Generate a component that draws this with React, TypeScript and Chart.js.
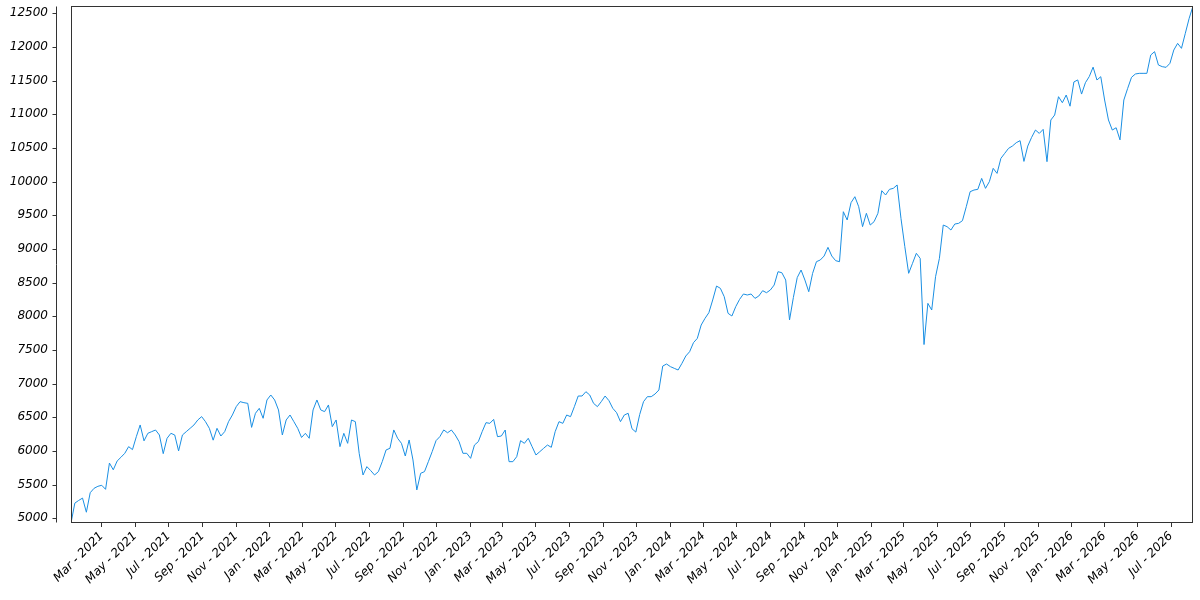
import { useEffect, useRef } from "react";
import Chart from "chart.js/auto";

// weekly closes, one Monday sample per week
const SERIES_START = "2021-01-04";
const STEP_DAYS = 7;

const close2021 = [
  4930, 5225, 5265, 5300, 5090, 5380, 5445, 5475, 5490, 5430,
  5820, 5720, 5850, 5906, 5965, 6064, 6020, 6212, 6386, 6150,
  6262, 6287, 6311, 6237, 5960, 6188, 6262, 6237, 6000, 6237,
  6287, 6336, 6386, 6460, 6510, 6435, 6336, 6160, 6336, 6222,
  6287, 6435, 6534, 6658, 6732, 6717, 6707, 6350, 6559, 6633,
  6485, 6757,
];
const close2022 = [
  6831, 6757, 6609, 6237, 6460, 6534, 6435, 6336, 6200, 6262,
  6188, 6609, 6757, 6609, 6584, 6683, 6361, 6460, 6064, 6262,
  6113, 6460, 6435, 5965, 5643, 5767, 5708, 5643, 5693, 5841,
  6015, 6039, 6312, 6188, 6113, 5925, 6163, 5866, 5421, 5668,
  5693, 5841, 5990, 6153, 6213, 6312, 6270, 6311, 6237, 6138,
  5965, 5965,
];
const close2023 = [
  5890, 6088, 6138, 6286, 6420, 6410, 6469, 6212, 6222, 6311,
  5841, 5841, 5915, 6153, 6113, 6188, 6064, 5940, 5989, 6039,
  6088, 6054, 6286, 6435, 6410, 6534, 6509, 6658, 6816, 6816,
  6880, 6831, 6707, 6658, 6732, 6816, 6747, 6633, 6568, 6435,
  6534, 6559, 6330, 6280, 6540, 6732, 6806, 6806, 6846, 6905,
  7261, 7291,
];
const close2024 = [
  7252, 7227, 7202, 7301, 7410, 7474, 7608, 7672, 7870, 7969,
  8053, 8242, 8449, 8415, 8291, 8044, 8004, 8143, 8251, 8331,
  8316, 8331, 8266, 8301, 8380, 8350, 8390, 8464, 8662, 8647,
  8538, 7945, 8280, 8575, 8687, 8538, 8365, 8637, 8811, 8836,
  8895, 9024, 8895, 8826, 8811, 9553, 9430, 9687, 9776, 9627,
  9331, 9529, 9355,
];
const close2025 = [
  9405, 9529, 9865, 9801, 9885, 9900, 9950, 9454, 9034, 8638,
  8786, 8935, 8860, 7580, 8192, 8093, 8588, 8860, 9355, 9331,
  9281, 9370, 9380, 9420, 9628, 9850, 9875, 9885, 10048, 9900,
  9999, 10197, 10122, 10345, 10420, 10494, 10528, 10578, 10608, 10300,
  10528, 10657, 10766, 10716, 10776, 10296, 10915, 10989, 11261, 11172,
  11286, 11120,
];
const close2026 = [
  11480, 11510, 11300, 11469, 11560, 11700, 11509, 11558, 11212, 10915,
  10766, 10800, 10620, 11212, 11385, 11549, 11598, 11608, 11608, 11608,
  11880, 11930, 11732, 11707, 11697, 11757, 11954, 12053, 11979, 12202,
  12425, 12608,
];

const yTickValues = [
  5000, 5500, 6000, 6500, 7000, 7500, 8000, 8500,
  9000, 9500, 10000, 10500, 11000, 11500, 12000, 12500,
];

const tickMonths = [
  "2021-03", "2021-05", "2021-07", "2021-09", "2021-11",
  "2022-01", "2022-03", "2022-05", "2022-07", "2022-09", "2022-11",
  "2023-01", "2023-03", "2023-05", "2023-07", "2023-09", "2023-11",
  "2024-01", "2024-03", "2024-05", "2024-07", "2024-09", "2024-11",
  "2025-01", "2025-03", "2025-05", "2025-07", "2025-09", "2025-11",
  "2026-01", "2026-03", "2026-05", "2026-07",
];
const monthNames = ["Jan", "Feb", "Mar", "Apr", "May", "Jun", "Jul", "Aug", "Sep", "Oct", "Nov", "Dec"];

const DAY_MS = 86400000;

function dayNumber(iso: string) {
  const [y, m, d] = iso.split("-").map(Number);
  return Date.UTC(y, m - 1, d || 1) / DAY_MS;
}

function monthLabel(day: number) {
  const dt = new Date(day * DAY_MS);
  return monthNames[dt.getUTCMonth()] + " - " + dt.getUTCFullYear();
}

// box round the plot plus a detached left spine, like the reference
const axisFrame = {
  id: "axisFrame",
  afterDraw(chart: any) {
    const { ctx, chartArea } = chart;
    const left = Math.round(chartArea.left) + 0.5;
    const right = Math.round(chartArea.right) - 0.5;
    const top = Math.round(chartArea.top) + 0.5;
    const bottom = Math.round(chartArea.bottom) - 0.5;
    const yScale = chart.scales.y;
    const spineX = Math.round(chartArea.left - 15) + 0.5;

    ctx.save();
    ctx.strokeStyle = "#333";
    ctx.lineWidth = 1;
    ctx.strokeRect(left, top, right - left, bottom - top);
    ctx.beginPath();
    ctx.moveTo(spineX, top);
    ctx.lineTo(spineX, bottom);
    yScale.ticks.forEach((t: any) => {
      const py = Math.round(yScale.getPixelForValue(t.value)) + 0.5;
      ctx.moveTo(spineX - 4, py);
      ctx.lineTo(spineX, py);
    });
    ctx.stroke();
    ctx.restore();
  },
};

export default function App() {
  const canvasRef = useRef<HTMLCanvasElement | null>(null);
  const chartRef = useRef<Chart | null>(null);

  useEffect(() => {
    document.body.style.margin = "0";
    if (!canvasRef.current) return;
    if (chartRef.current) { chartRef.current.destroy(); }

    const closes = [...close2021, ...close2022, ...close2023, ...close2024, ...close2025, ...close2026];
    const start = dayNumber(SERIES_START);
    const points = closes.map((v, i) => ({ x: start + i * STEP_DAYS, y: v }));
    const tickDays = tickMonths.map(dayNumber);
    const tickFont = { family: "'DejaVu Sans', sans-serif", size: 12, style: "italic" as const };

    chartRef.current = new Chart(canvasRef.current, {
      type: "line",
      data: {
        datasets: [
          {
            data: points,
            borderColor: "#1a8fe3",
            borderWidth: 1,
            pointRadius: 0,
            tension: 0,
            fill: false,
          },
        ],
      },
      options: {
        animation: false,
        responsive: true,
        maintainAspectRatio: false,
        layout: { padding: { left: 0, right: 7, top: 6, bottom: 0 } },
        plugins: {
          legend: { display: false },
          tooltip: { enabled: false },
        },
        scales: {
          x: {
            type: "linear",
            min: points[0].x,
            max: points[points.length - 1].x,
            afterBuildTicks: (scale: any) => {
              scale.ticks = tickDays.map((d) => ({ value: d }));
            },
            afterFit: (scale: any) => {
              scale.height = 77;
            },
            border: { display: false },
            grid: {
              drawOnChartArea: false,
              tickLength: 4,
              tickColor: "#333",
            },
            ticks: {
              autoSkip: false,
              minRotation: 45,
              maxRotation: 45,
              padding: 2,
              color: "#000",
              font: tickFont,
              callback: (value: any) => monthLabel(Number(value)),
            },
          },
          y: {
            min: Math.min(...closes),
            max: Math.max(...closes),
            afterBuildTicks: (scale: any) => {
              scale.ticks = yTickValues.map((v) => ({ value: v }));
            },
            afterFit: (scale: any) => {
              scale.width = 71;
              scale.paddingTop = 0;
              scale.paddingBottom = 0;
            },
            border: { display: false },
            grid: {
              drawOnChartArea: false,
              tickLength: 20,
              tickColor: "rgba(0,0,0,0)",
            },
            ticks: {
              padding: 3,
              color: "#000",
              font: tickFont,
              callback: (value: any) => String(value),
            },
          },
        },
      },
      plugins: [axisFrame],
    });

    return () => {
      if (chartRef.current) {
        chartRef.current.destroy();
        chartRef.current = null;
      }
    };
  }, []);

  return (
    <div style={{ width: 1200, height: 600, position: "relative" }}>
      <canvas ref={canvasRef} />
    </div>
  );
}
